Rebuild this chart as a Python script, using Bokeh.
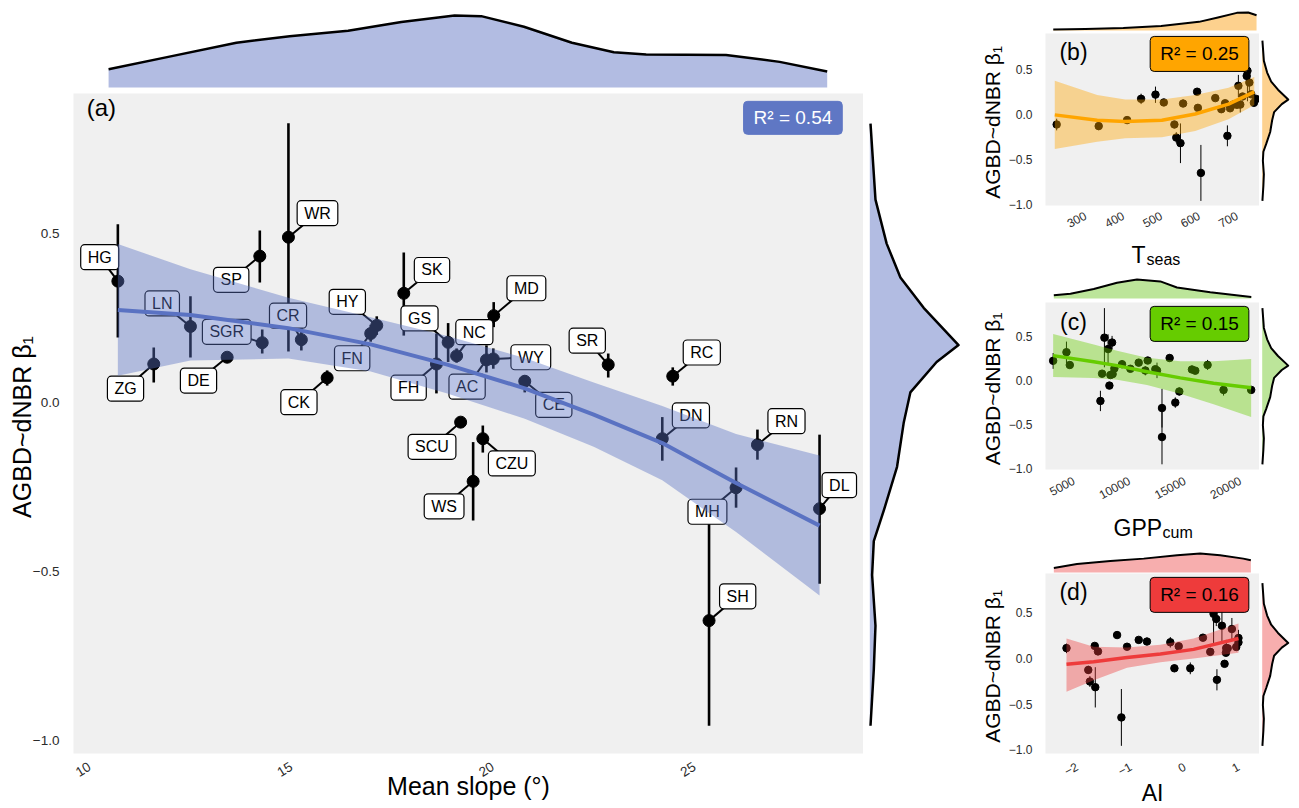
import numpy as np
from bokeh.plotting import figure
from bokeh.layouts import row, column
from bokeh.models import Range1d, FixedTicker, CustomJSTickFormatter, Label
from bokeh.core.properties import value
from bokeh.embed import file_html
from bokeh.resources import INLINE

FONT = "Liberation Sans"

# ---------------- data ----------------
sites = ["HG", "ZG", "LN", "DE", "SP", "SGR", "WR", "CR", "CK", "FN", "HY", "SK", "FH", "GS", "NC",
         "AC", "WY", "MD", "CE", "SCU", "CZU", "WS", "SR", "RC", "DN", "RN", "MH", "SH", "DL"]
slope = [10.70, 11.59, 12.50, 13.41, 14.22, 14.28, 14.93, 15.25, 15.89, 16.97, 17.12, 17.79, 18.60, 18.89, 19.10,
         19.84, 20.01, 20.02, 20.79, 19.20, 19.75, 19.51, 22.86, 24.46, 24.20, 26.56, 26.03, 25.36, 28.10]
beta = [0.359, 0.114, 0.225, 0.134, 0.433, 0.177, 0.489, 0.186, 0.073, 0.204, 0.228, 0.323, 0.114, 0.178, 0.138,
        0.126, 0.129, 0.257, 0.063, -0.058, -0.107, -0.233, 0.112, 0.078, -0.107, -0.125, -0.252, -0.645, -0.314]
beta_hi = [0.527, 0.163, 0.314, 0.145, 0.509, 0.216, 0.826, 0.228, 0.095, 0.230, 0.255, 0.444, 0.204, 0.235, 0.160,
           0.169, 0.160, 0.297, 0.080, -0.045, -0.068, -0.117, 0.145, 0.104, -0.043, -0.080, -0.192, -0.334, -0.095]
beta_lo = [0.192, 0.059, 0.133, 0.123, 0.355, 0.145, 0.151, 0.154, 0.050, 0.180, 0.200, 0.198, 0.027, 0.120, 0.118,
           0.089, 0.100, 0.223, 0.030, -0.072, -0.148, -0.349, 0.074, 0.050, -0.172, -0.169, -0.311, -0.956, -0.536]
tseas = [733, 690, 485, 745, 726, 751, 728, 643, 682, 715, 738, 704, 709, 447, 507,
         558, 669, 595, 659, 410, 535, 675, 700, 597, 224, 335, 540, 605, 551]
gpp = [8090, 11450, 3140, 10100, 8450, 4640, 7760, 9350, 8500, 10850, 11660, 4340, 12500, 17060, 8660,
       15650, 12350, 13640, 8300, 8210, 20990, 7400, 15950, 7550, 18500, 14510, 14150, 12950, 12950]
ai = [0.693, -2.195, 1.0, -0.11, 0.588, 1.0, 0.538, -0.70, 0.476, -0.853, 0.34, 0.878, 0.773, -0.266, -1.67,
      0.959, -1.07, -1.255, 0.767, 0.742, -0.19, 0.60, 0.80, -1.61, 0.105, -1.79, -1.76, -1.175, -1.66]

# fitted curves and confidence bands
fit_a_x = [10.70, 12.50, 14.93, 16.97, 18.87, 20.79, 22.50, 24.20, 26.03, 28.10]
fit_a_mid = [0.274, 0.259, 0.220, 0.172, 0.112, 0.042, -0.036, -0.120, -0.238, -0.364]
fit_a_hi = [0.469, 0.394, 0.310, 0.252, 0.197, 0.132, 0.059, -0.010, -0.093, -0.157]
fit_a_lo = [0.079, 0.124, 0.130, 0.092, 0.027, -0.048, -0.131, -0.230, -0.383, -0.571]

fit_b_x = [219, 331, 405, 502, 590, 678, 746]
fit_b_mid = [0.0, -0.06, -0.075, -0.06, 0.01, 0.12, 0.255]
fit_b_hi = [0.38, 0.22, 0.17, 0.17, 0.22, 0.30, 0.42]
fit_b_lo = [-0.38, -0.30, -0.26, -0.25, -0.18, -0.05, 0.11]

fit_c_x = [3140, 6800, 8900, 11600, 14600, 17600, 20990]
fit_c_mid = [0.284, 0.215, 0.17, 0.10, 0.03, -0.03, -0.083]
fit_c_hi = [0.53, 0.41, 0.34, 0.26, 0.22, 0.22, 0.246]
fit_c_lo = [0.04, 0.03, 0.01, -0.05, -0.15, -0.27, -0.417]

fit_d_x = [-2.195, -1.69, -1.07, -0.45, 0.167, 1.0]
fit_d_mid = [-0.062, -0.035, 0.011, 0.05, 0.10, 0.219]
fit_d_hi = [0.219, 0.128, 0.12, 0.15, 0.22, 0.383]
fit_d_lo = [-0.365, -0.237, -0.10, -0.04, 0.0, 0.062]

# marginal densities (relative heights)
dens_slope_x = [10.47, 11.92, 13.64, 14.96, 16.41, 17.73, 19.05, 19.71, 20.77, 21.96, 23.00, 23.80, 25.78, 27.11, 28.29]
dens_slope_d = [0.253, 0.422, 0.622, 0.711, 0.787, 0.911, 1.0, 0.991, 0.844, 0.622, 0.489, 0.458, 0.453, 0.356, 0.222]
dens_beta_v = [0.825, 0.60, 0.47, 0.37, 0.28, 0.17, 0.12, 0.03, -0.06, -0.19, -0.32, -0.41, -0.51, -0.66, -0.79, -0.956]
dens_beta_d = [0.008, 0.064, 0.19, 0.345, 0.607, 1.0, 0.753, 0.457, 0.382, 0.307, 0.157, 0.045, 0.026, 0.064, 0.045, 0.008]
dens_t_x = [215, 300, 400, 500, 600, 650, 700, 730, 752]
dens_t_d = [0.05, 0.08, 0.14, 0.25, 0.48, 0.72, 0.98, 1.0, 0.85]
dens_g_x = [3200, 4700, 6800, 8900, 10700, 12800, 14300, 17300, 21000]
dens_g_d = [0.17, 0.25, 0.50, 0.83, 1.0, 0.90, 0.58, 0.33, 0.08]
dens_ai_x = [-2.43, -2.0, -1.38, -0.76, -0.14, 0.29, 0.66, 1.09, 1.23]
dens_ai_d = [0.24, 0.45, 0.60, 0.73, 0.91, 1.0, 0.91, 0.73, 0.64]

# label placement (layout, data units of panel a)
lab_x = [10.25, 10.89, 11.80, 12.70, 13.51, 13.40, 15.65, 14.92, 15.19, 16.51, 16.39, 18.49, 17.91, 18.18, 19.54,
         19.36, 20.94, 20.83, 21.51, 18.49, 20.47, 18.79, 22.34, 25.18, 24.91, 27.28, 25.32, 26.07, 28.59]
lab_y = [0.430, 0.041, 0.293, 0.065, 0.363, 0.209, 0.560, 0.257, 0.001, 0.131, 0.298, 0.392, 0.044, 0.249, 0.208,
         0.047, 0.134, 0.338, -0.007, -0.131, -0.180, -0.307, 0.183, 0.148, -0.038, -0.055, -0.323, -0.573, -0.244]

YTICKS = [-1.0, -0.5, 0.0, 0.5]
YLABEL = "AGBD~dNBR  \u03b2\u2081"


def fmt(dec):
    return CustomJSTickFormatter(code="return tick.toFixed(%d).replace('-', '\\u2212');" % dec)


def style_axes(p, xticks, tick_size, label_size, orient):
    p.grid.visible = False
    for ax in (p.xaxis[0], p.yaxis[0]):
        ax.axis_line_color = None
        ax.major_tick_line_color = None
        ax.minor_tick_line_color = None
        ax.major_tick_out = 0
        ax.major_tick_in = 0
        ax.minor_tick_out = 0
        ax.minor_tick_in = 0
        ax.major_label_text_font = FONT
        ax.major_label_text_font_size = tick_size
        ax.major_label_text_color = "#2b2b2b"
        ax.axis_label_text_font = FONT
        ax.axis_label_text_font_size = label_size
        ax.axis_label_text_font_style = "normal"
        ax.axis_label_text_color = "black"
    p.xaxis[0].ticker = FixedTicker(ticks=xticks)
    p.xaxis[0].formatter = fmt(0)
    p.xaxis[0].major_label_orientation = orient
    p.yaxis[0].ticker = FixedTicker(ticks=YTICKS)
    p.yaxis[0].formatter = fmt(1)


def blank(width, height, **kw):
    p = figure(width=width, height=height, output_backend="svg", toolbar_location=None,
               x_axis_location=None, y_axis_location=None, outline_line_color=None,
               background_fill_color="white", border_fill_color="white", **kw)
    p.grid.visible = False
    return p


# ---------------- panel (a) ----------------
xr_a = Range1d(9.60, 29.19)
yr_a = Range1d(-1.038, 0.914)
pa = figure(width=863, height=715, x_range=xr_a, y_range=yr_a, output_backend="svg", toolbar_location=None,
            min_border_left=73, min_border_right=0, min_border_top=0, min_border_bottom=55,
            background_fill_color="#F0F0F0", border_fill_color="white", outline_line_color=None,
            x_axis_label="Mean slope (\u00b0)", y_axis_label=YLABEL)
style_axes(pa, [10, 15, 20, 25], "13.5px", "25px", 0.55)
pa.yaxis[0].major_label_standoff = 14
pa.yaxis[0].axis_label_standoff = -6
pa.xaxis[0].major_label_standoff = 12
pa.xaxis[0].axis_label_standoff = -12

pa.segment(x0=slope, y0=beta_lo, x1=slope, y1=beta_hi, line_width=2.6, line_color="black")
pa.scatter(slope, beta, size=12, fill_color="black", line_color="black")
pa.segment(x0=slope, y0=beta, x1=lab_x, y1=lab_y, line_width=2, line_color="black")
pa.text(x=lab_x, y=lab_y, text=sites, text_font=value(FONT), text_font_size="16px",
        text_align="center", text_baseline="middle", text_color="black",
        background_fill_color="white", border_line_color="black", border_line_width=1.2,
        padding=(7, 4), border_radius=4)
pa.varea(x=fit_a_x, y1=fit_a_lo, y2=fit_a_hi, fill_color="#5B73C4", fill_alpha=0.42)
pa.line(fit_a_x, fit_a_mid, line_color="#5A72C2", line_width=4, line_join="round")
pa.add_layout(Label(x=10.29, y=0.873, text="(a)", text_font=FONT, text_font_size="24px", text_color="black",
                    text_align="center", text_baseline="middle"))
pa.add_layout(Label(x=27.44, y=0.842, text="R\u00b2 = 0.54", text_font=FONT, text_font_size="19px",
                    text_color="white", text_align="center", text_baseline="middle",
                    background_fill_color="#5F77C4", border_line_color="#5F77C4",
                    padding=(10, 6), border_radius=4))

top_a = blank(863, 93, x_range=xr_a, y_range=Range1d(-0.083, 1.208),
              min_border_left=73, min_border_right=0, min_border_top=0, min_border_bottom=0)
top_a.varea(x=dens_slope_x, y1=0, y2=dens_slope_d, fill_color="#B2BCE2")
top_a.line(dens_slope_x, dens_slope_d, line_color="black", line_width=2.5, line_join="round")

right_a = blank(100, 715, y_range=yr_a, x_range=Range1d(-0.071, 1.056),
                min_border_left=0, min_border_right=0, min_border_top=0, min_border_bottom=55)
right_a.harea(y=dens_beta_v, x1=0, x2=dens_beta_d, fill_color="#B2BCE2")
right_a.line(dens_beta_d, dens_beta_v, line_color="black", line_width=2.5, line_join="round")

left_block = column(top_a, row(pa, right_a))


# ---------------- panels (b), (c), (d) ----------------
def small_panel(xv, xr, yr, frame_h, bottom, top_h, top_yr, xticks, xlabel,
                fx, fm, flo, fhi, color, dens_fill, dens_x, dens_d, r2, tag, tag_xy, r2_xy):
    p = figure(width=296, height=frame_h + bottom, x_range=xr, y_range=yr, output_backend="svg",
               toolbar_location=None, min_border_left=82, min_border_right=0, min_border_top=0,
               min_border_bottom=bottom, background_fill_color="#F0F0F0", border_fill_color="white",
               outline_line_color=None, x_axis_label=xlabel, y_axis_label=YLABEL)
    style_axes(p, xticks, "12px", "21px", 0.5)
    p.yaxis[0].major_label_standoff = 13
    p.yaxis[0].axis_label_standoff = 2
    p.xaxis[0].major_label_standoff = 10
    p.segment(x0=xv, y0=beta_lo, x1=xv, y1=beta_hi, line_width=1, line_color="black")
    p.scatter(xv, beta, size=7.5, fill_color="black", line_color="black")
    p.varea(x=fx, y1=flo, y2=fhi, fill_color=color, fill_alpha=0.4)
    p.line(fx, fm, line_color=color, line_width=3.5, line_join="round")
    p.add_layout(Label(x=tag_xy[0], y=tag_xy[1], text=tag, text_font=FONT, text_font_size="23px",
                       text_color="black", text_align="center", text_baseline="middle"))
    p.add_layout(Label(x=r2_xy[0], y=r2_xy[1], text=r2, text_font=FONT, text_font_size="19px",
                       text_color="black", text_align="center", text_baseline="middle",
                       background_fill_color=color, border_line_color="black", border_line_width=1,
                       padding=(10, 7), border_radius=4))
    top = blank(296, top_h, x_range=xr, y_range=top_yr, min_border_left=82, min_border_right=0,
                min_border_top=0, min_border_bottom=0)
    top.varea(x=dens_x, y1=0, y2=dens_d, fill_color=dens_fill)
    top.line(dens_x, dens_d, line_color="black", line_width=2, line_join="round")
    right = blank(40, frame_h + bottom, y_range=yr, x_range=Range1d(-0.104, 1.434),
                  min_border_left=0, min_border_right=0, min_border_top=0, min_border_bottom=bottom)
    right.harea(y=dens_beta_v, x1=0, x2=dens_beta_d, fill_color=dens_fill)
    right.line(dens_beta_d, dens_beta_v, line_color="black", line_width=2, line_join="round")
    return p, top, row(p, right)


def label_strip(xr, height, parts):
    f = blank(296, height, x_range=xr, y_range=Range1d(0, height), min_border_left=82,
              min_border_right=0, min_border_top=0, min_border_bottom=0)
    for (x, y, txt, size) in parts:
        f.text(x=[x], y=[y], text=[txt], text_font=value(FONT), text_font_size=size,
               text_align="left", text_baseline="alphabetic", text_color="black")
    return f


xr_b = Range1d(194.5, 759.8)
yr_b = Range1d(-1.007, 0.904)
pb, top_b, mid_b = small_panel(tseas, xr_b, yr_b, 172, 31, 33, Range1d(-0.167, 1.667), [300, 400, 500, 600, 700], None,
                               fit_b_x, fit_b_mid, fit_b_lo, fit_b_hi, "#FFA500", "#FDD18E",
                               dens_t_x, dens_t_d, "R\u00b2 = 0.25", "(b)", (268.5, 0.693), (601.4, 0.677))
pb.xaxis[0].major_label_standoff = 9
lab_b = label_strip(xr_b, 34, [(421.7, 16, "T", "23px"), (461.3, 11, "seas", "16px")])
blk_b = column(top_b, mid_b, lab_b)

xr_c = Range1d(2450, 21740)
yr_c = Range1d(-1.015, 0.890)
pc, top_c, mid_c = small_panel(gpp, xr_c, yr_c, 167, 38, 32, Range1d(-0.21, 1.474), [5000, 10000, 15000, 20000], None,
                               fit_c_x, fit_c_mid, fit_c_lo, fit_c_hi, "#66CC00", "#BCE59A",
                               dens_g_x, dens_g_d, "R\u00b2 = 0.15", "(c)", (4974, 0.673), (16332, 0.646))
lab_c = label_strip(xr_c, 33, [(8580, 13, "GPP", "23px"), (12996, 8, "cum", "16px")])
blk_c = column(top_c, mid_c, lab_c)

xr_d = Range1d(-2.585, 1.391)
yr_d = Range1d(-1.040, 0.931)
pd_, top_d, mid_d = small_panel(ai, xr_d, yr_d, 180, 55, 33, Range1d(-0.053, 1.684), [-2, -1, 0, 1], "AI",
                                fit_d_x, fit_d_mid, fit_d_lo, fit_d_hi, "#EE3B3B", "#F7AEAE",
                                dens_ai_x, dens_ai_d, "R\u00b2 = 0.16", "(d)", (-2.065, 0.723), (0.276, 0.697))
pd_.xaxis[0].axis_label_text_font_size = "23px"
pd_.xaxis[0].major_label_standoff = 12
pd_.xaxis[0].axis_label_standoff = -3
blk_d = column(top_d, mid_d)

right_block = column(blk_b, blk_c, blk_d)
layout = row(left_block, right_block)

open("out.html", "w").write(file_html(layout, INLINE))
